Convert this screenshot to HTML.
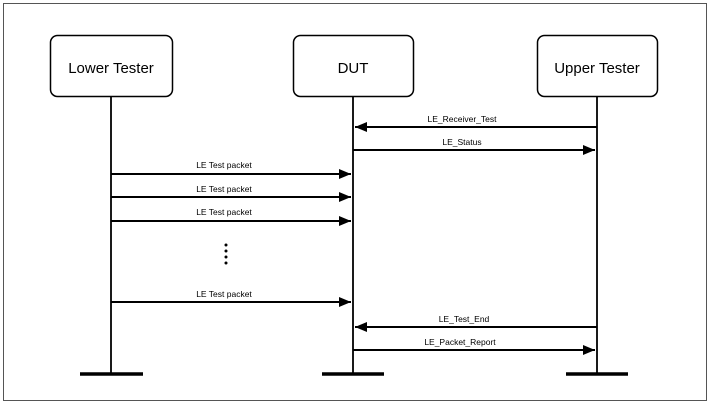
<!DOCTYPE html>
<html><head><style>body{margin:0;background:#fff}svg{display:block}</style></head><body>
<svg width="711" height="405" xmlns="http://www.w3.org/2000/svg" font-family="Liberation Sans, sans-serif">
<defs><marker id="a" markerWidth="12" markerHeight="10" refX="12" refY="5" orient="auto" markerUnits="userSpaceOnUse"><path d="M0,0 L12,5 L0,10 z" fill="#000"/></marker></defs>
<rect x="3.5" y="3.5" width="703" height="397" fill="none" stroke="#555" stroke-width="1"/>
<g fill="#fff" stroke="#000" stroke-width="1.5">
<rect x="50.5" y="35.5" width="122" height="61" rx="7"/>
<rect x="293.5" y="35.5" width="120" height="61" rx="7"/>
<rect x="537.5" y="35.5" width="120" height="61" rx="7"/>
</g>
<g font-size="15" text-anchor="middle" fill="#000">
<text x="111" y="73">Lower Tester</text><text x="353" y="73">DUT</text><text x="597" y="73">Upper Tester</text>
</g>
<g stroke="#000" stroke-width="1.8">
<line x1="111" y1="97" x2="111" y2="374"/><line x1="353" y1="97" x2="353" y2="374"/><line x1="597" y1="97" x2="597" y2="374"/>
</g>
<g stroke="#000" stroke-width="3.5">
<line x1="80" y1="374" x2="143" y2="374"/><line x1="322" y1="374" x2="384" y2="374"/><line x1="566" y1="374" x2="628" y2="374"/>
</g>
<g stroke="#000" stroke-width="2" marker-end="url(#a)">
<line x1="597" y1="127" x2="355" y2="127"/>
<line x1="353" y1="150" x2="595" y2="150"/>
<line x1="111" y1="174" x2="351" y2="174"/>
<line x1="111" y1="197" x2="351" y2="197"/>
<line x1="111" y1="221" x2="351" y2="221"/>
<line x1="111" y1="302" x2="351" y2="302"/>
<line x1="597" y1="327" x2="355" y2="327"/>
<line x1="353" y1="350" x2="595" y2="350"/>
</g>
<g font-size="8.5" text-anchor="middle" fill="#000">
<text x="462" y="122">LE_Receiver_Test</text>
<text x="462" y="145">LE_Status</text>
<text x="224" y="168">LE Test packet</text>
<text x="224" y="192">LE Test packet</text>
<text x="224" y="215">LE Test packet</text>
<text x="224" y="297">LE Test packet</text>
<text x="464" y="322">LE_Test_End</text>
<text x="460" y="345">LE_Packet_Report</text>
</g>
<g fill="#000"><circle cx="226" cy="245" r="1.5"/><circle cx="226" cy="251" r="1.5"/><circle cx="226" cy="257" r="1.5"/><circle cx="226" cy="263" r="1.5"/></g>
</svg>
</body></html>
